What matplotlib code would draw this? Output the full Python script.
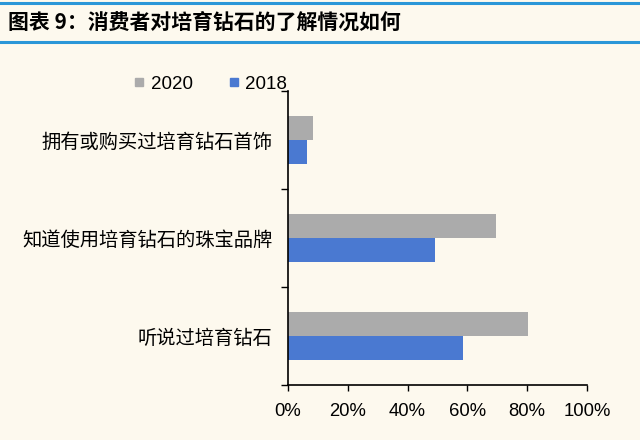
import matplotlib.pyplot as plt
import numpy as np
from matplotlib.lines import Line2D

plt.rcParams['font.family'] = ['Noto Sans CJK SC', 'DejaVu Sans']

# categories listed top to bottom
categories = ["拥有或购买过培育钻石首饰", "知道使用培育钻石的珠宝品牌", "听说过培育钻石"]
values_2020 = [8.2, 69.4, 80.2]
values_2018 = [6.2, 49.3, 58.4]
series_names = ["2020", "2018"]
x_ticks = [0, 20, 40, 60, 80, 100]

BG = "#FDF9EE"
GRAY = "#ABABAB"
BLUE = "#4A79D1"
LINE_BLUE = "#2B97D8"

fig = plt.figure(figsize=(6.4, 4.4), dpi=100, facecolor=BG)

# header: two blue rules and the italic title
fig.add_artist(Line2D([0, 1], [1 - 3.5 / 440, 1 - 3.5 / 440], color=LINE_BLUE, lw=2.2))
fig.add_artist(Line2D([0, 1], [1 - 42.5 / 440, 1 - 42.5 / 440], color=LINE_BLUE, lw=2.2))
fig.text(8 / 640, 1 - 22 / 440, "图表 9：消费者对培育钻石的了解情况如何",
         fontsize=15, fontweight="bold", style="italic", va="center", ha="left")

ax = fig.add_axes([288 / 640, 55 / 440, 299 / 640, 294 / 440])
ax.set_facecolor(BG)

y = np.arange(len(categories))
h = 0.245
ax.barh(y - h / 2, values_2020, height=h, color=GRAY, label=series_names[0])
ax.barh(y + h / 2, values_2018, height=h, color=BLUE, label=series_names[1])

ax.set_ylim(len(categories) - 0.5, -0.5)
ax.set_xlim(0, 100)

ax.set_yticks(y)
ax.set_yticklabels(categories, fontsize=13.9)
ax.tick_params(axis="y", length=0, pad=11)
ax.set_yticks(np.arange(-0.5, len(categories), 1), minor=True)
ax.tick_params(axis="y", which="minor", length=5, width=1, direction="out")

ax.set_xticks(x_ticks)
ax.set_xticklabels([f"{t}%" for t in x_ticks], family="Liberation Sans", fontsize=13.3)
ax.tick_params(axis="x", length=4, width=1, direction="out", pad=9)

for s in ["top", "right"]:
    ax.spines[s].set_visible(False)
for s in ["left", "bottom"]:
    ax.spines[s].set_linewidth(1.2)
    ax.spines[s].set_color("black")

handles = [Line2D([], [], marker="s", linestyle="", markersize=6, color=GRAY),
           Line2D([], [], marker="s", linestyle="", markersize=6, color=BLUE)]
leg = fig.legend(handles, series_names, loc="center left", bbox_to_anchor=(116 / 640, 1 - 84 / 440),
                 ncol=2, frameon=False, handlelength=0.7, handletextpad=0.25, columnspacing=1.85,
                 prop={"family": "Liberation Sans", "size": 13.5})

fig.savefig("out.png", dpi=100, facecolor=BG)
